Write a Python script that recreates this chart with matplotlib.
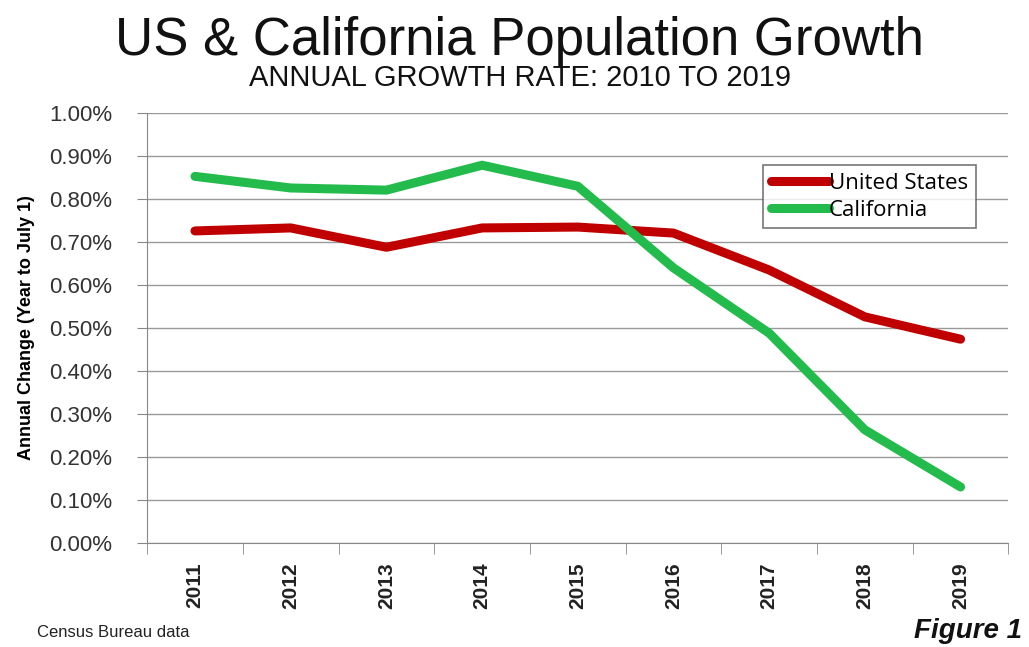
import numpy as np
import matplotlib.pyplot as plt

years = ['2011', '2012', '2013', '2014', '2015', '2016', '2017', '2018', '2019']
us = [0.726, 0.733, 0.688, 0.733, 0.735, 0.721, 0.635, 0.526, 0.474]
ca = [0.853, 0.826, 0.821, 0.879, 0.830, 0.640, 0.488, 0.263, 0.130]
yticks = np.arange(0, 1.01, 0.1)

plt.rcParams['font.family'] = ['Liberation Sans', 'DejaVu Sans']

fig = plt.figure(figsize=(10.29, 6.47), dpi=100)
ax = fig.add_axes([0.143, 0.161, 0.837, 0.664])

x = np.arange(len(years))
ax.plot(x, us, color='#c00000', lw=6.5, solid_capstyle='round', label='United States')
ax.plot(x, ca, color='#22bb4c', lw=6.5, solid_capstyle='round', label='California')

ax.set_xlim(-0.5, len(years) - 0.5)
ax.set_ylim(0, 1.0)
ax.set_yticks(yticks)
ax.set_yticklabels(['%.2f%%' % v for v in yticks], fontsize=16, color='#333333')
ax.set_xticks(x)
ax.set_xticklabels(years, rotation=90, fontsize=15, fontweight='bold', color='#222222')
ax.set_xticks(np.arange(len(years) + 1) - 0.5, minor=True)
ax.tick_params(axis='x', which='major', length=0, pad=14)
ax.tick_params(axis='x', which='minor', length=8, color='#888888')
ax.tick_params(axis='y', length=7, color='#888888', pad=18)
ax.grid(axis='y', color='#999999', lw=1)
ax.set_axisbelow(True)
for s in ['top', 'right']:
    ax.spines[s].set_visible(False)
ax.spines['left'].set_color('#888888')
ax.spines['bottom'].set_color('#888888')

ax.set_ylabel('Annual Change (Year to July 1)', fontsize=13, fontweight='bold',
              family=['Liberation Sans Narrow', 'Liberation Sans'], labelpad=10)

leg = ax.legend(loc='upper right', bbox_to_anchor=(0.962, 0.879),
                frameon=True, fancybox=False, handlelength=2.6, handletextpad=0.0,
                borderpad=0.35, labelspacing=0.25, borderaxespad=0,
                prop={'family': 'Open Sans', 'size': 16})
leg.get_frame().set_edgecolor('#555555')
leg.get_frame().set_linewidth(1.2)

fig.text(0.505, 0.937, 'US & California Population Growth', ha='center', va='center',
         fontsize=38, color='#111111')
fig.text(0.505, 0.879, 'ANNUAL GROWTH RATE: 2010 TO 2019', ha='center', va='center',
         fontsize=21, color='#111111')
fig.text(0.036, 0.023, 'Census Bureau data', ha='left', va='center', fontsize=12,
         family=['Liberation Sans Narrow', 'Liberation Sans'], color='#222222')
fig.text(0.993, 0.025, 'Figure 1', ha='right', va='center', fontsize=20,
         fontweight='bold', fontstyle='italic', color='#111111')

fig.savefig('out.png', dpi=100)
